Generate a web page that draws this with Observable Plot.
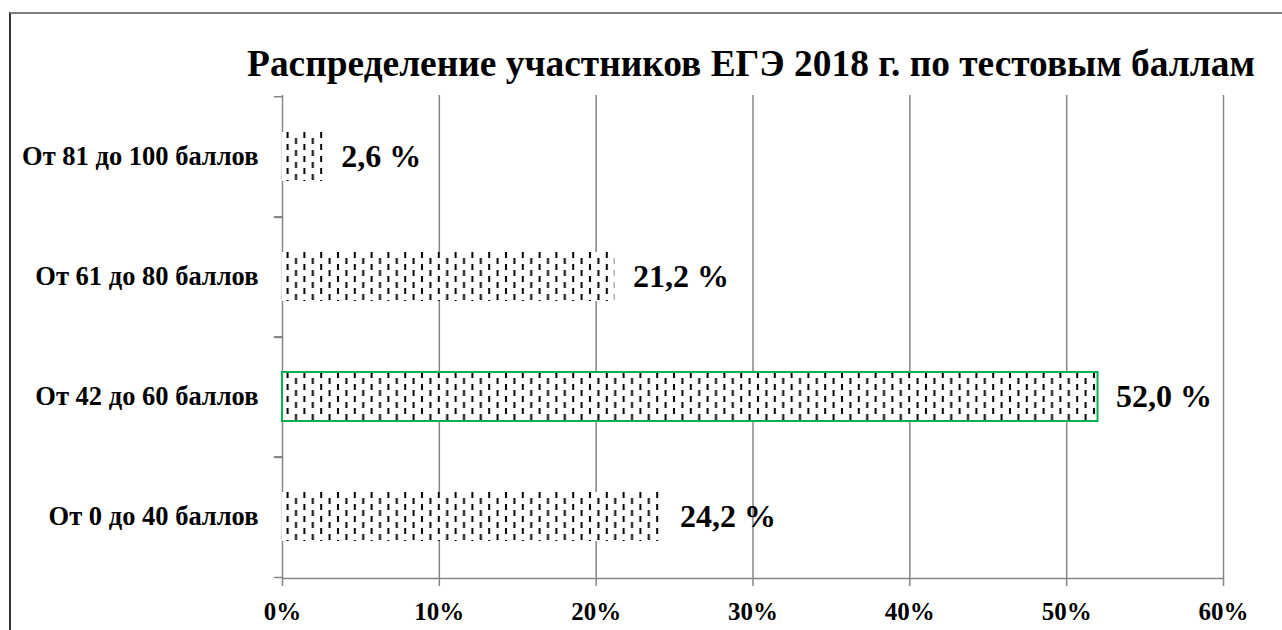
<!DOCTYPE html>
<html><head><meta charset="utf-8">
<script src="https://cdn.jsdelivr.net/npm/d3@7"></script>
<script src="https://cdn.jsdelivr.net/npm/@observablehq/plot@0.6"></script>
<style>
body{margin:0;background:#fff;width:1282px;height:630px;overflow:hidden;position:relative}
#frame{position:absolute;left:9px;top:12px;width:1300px;height:700px;border-left:2px solid #333;border-top:2px solid #7f7f7f}
#chart{position:absolute;left:0;top:0}
</style></head><body>
<div id="frame"></div><div id="chart"></div>
<script>
const title = "Распределение участников ЕГЭ 2018 г. по тестовым баллам";
const categories = ["От 81 до 100 баллов", "От 61 до 80 баллов", "От 42 до 60 баллов", "От 0 до 40 баллов"];
const values = [2.6, 21.2, 52.0, 24.2];
const valueLabels = ["2,6 %", "21,2 %", "52,0 %", "24,2 %"];
const highlighted = [false, false, true, false];
const xTicks = [0, 10, 20, 30, 40, 50, 60];
const xTickLabels = ["0%", "10%", "20%", "30%", "40%", "50%", "60%"];

const data = categories.map((c, i) => ({category: c, value: values[i], label: valueLabels[i], hl: highlighted[i]}));
const font = "'Liberation Serif','Times New Roman',serif";
const gridColor = "#868686";
const step = (578 - 95) / categories.length;
const tickShape = {draw(context, l) { context.moveTo(0, 0); context.lineTo(0, -l); }};

const chart = Plot.plot({
  width: 1282, height: 630,
  marginLeft: 282, marginRight: 59, marginTop: 95, marginBottom: 52,
  style: {fontFamily: font, background: "transparent", color: "black"},
  x: {domain: [0, 60], label: null},
  y: {domain: categories, paddingInner: 0.594, paddingOuter: 0.297, label: null},
  marks: [
    Plot.gridX(xTicks, {stroke: gridColor, strokeOpacity: 1, strokeWidth: 1.5}),
    Plot.frame({anchor: "bottom", stroke: gridColor, strokeWidth: 1.5}),
    Plot.vector(categories, {x: 0, y: d => d, dy: -step / 2, rotate: 270, length: 8, anchor: "start", shape: tickShape, stroke: gridColor, strokeWidth: 1.5}),
    Plot.vector(categories, {x: 0, y: d => d, dy: step / 2, rotate: 270, length: 8, anchor: "start", shape: tickShape, stroke: gridColor, strokeWidth: 1.5}),
    Plot.barX(data, {x: "value", y: "category", fill: "url(#dashes)", stroke: d => d.hl ? "#00B050" : "none", strokeWidth: 2}),
    Plot.text(data, {x: "value", y: "category", text: "label", textAnchor: "start", dx: 18, fontSize: 32, fontWeight: "bold", fill: "black"}),
    Plot.axisX(xTicks, {label: null, tickSize: 8, tickPadding: 16, stroke: gridColor, strokeWidth: 1.5, strokeOpacity: 1, tickFormat: d => xTickLabels[xTicks.indexOf(d)], fontSize: 25, fontWeight: "bold", fill: "black"}),
    Plot.axisY({label: null, tickSize: 0, tickPadding: 24, fontSize: 26.5, fontWeight: "bold", fill: "black"}),
    Plot.text([title], {frameAnchor: "top", dy: -31, dx: -2, lineAnchor: "middle", fontSize: 37.4, fontWeight: "bold", fill: "black"})
  ]
});

const defs = d3.select(chart).insert("defs", ":first-child");
const pat = defs.append("pattern").attr("id", "dashes").attr("patternUnits", "userSpaceOnUse").attr("width", 16.8).attr("height", 12);
pat.append("rect").attr("width", 16.8).attr("height", 12).attr("fill", "white");
pat.append("rect").attr("x", 1).attr("y", 0).attr("width", 2).attr("height", 6).attr("fill", "black");
pat.append("rect").attr("x", 9.4).attr("y", 6).attr("width", 2).attr("height", 6).attr("fill", "black");

document.getElementById("chart").append(chart);
</script>
</body></html>
